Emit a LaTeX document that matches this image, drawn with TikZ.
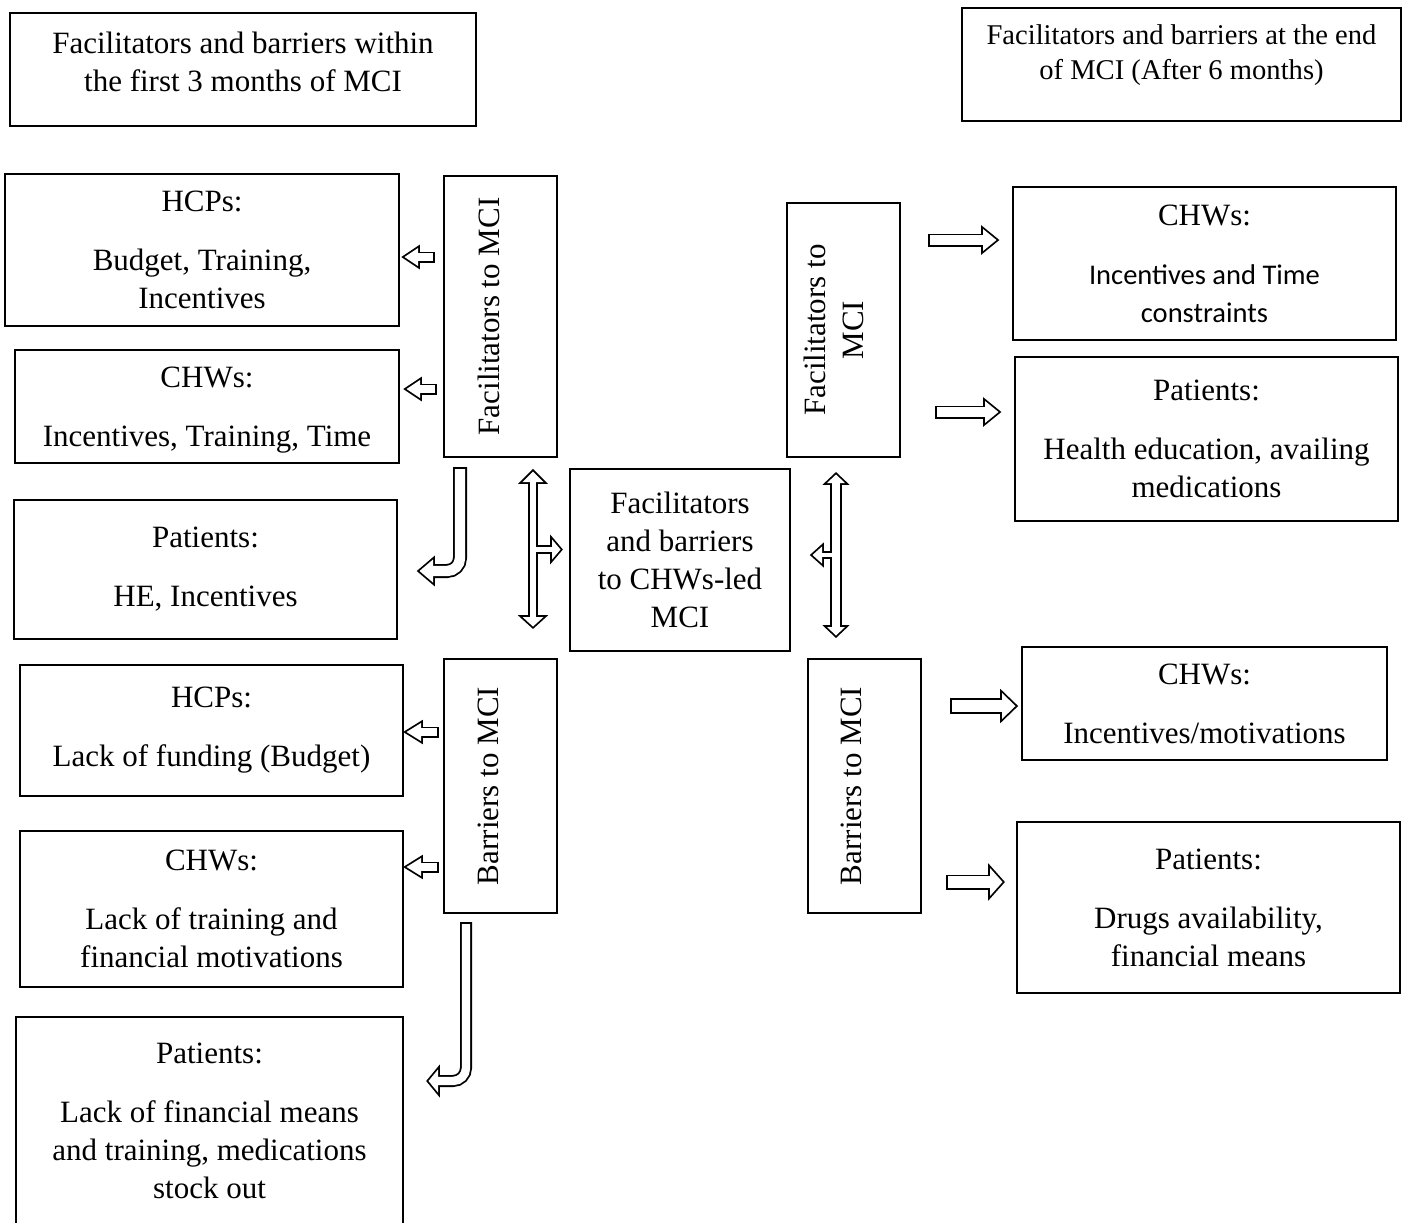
\documentclass[tikz,border=0pt]{standalone}
\usepackage{fontspec}
\setmainfont{Liberation Serif}
\newfontfamily\calibri{Carlito}[Scale=0.92]
\usepackage{tikz}

\tikzset{
  box/.style={draw, line width=0.9pt, align=center, font=\fontsize{15.5}{19}\selectfont},
  shout/.style={line width=#1pt+1.8pt, line cap=butt},
  shin/.style={line width=#1pt, white, line cap=butt},
  tail/.style={shorten <=-0.9pt},
  head/.style={fill=white, preaction={draw, line width=1.8pt, line join=miter}},
}

\begin{document}
\begin{tikzpicture}[x=0.5pt, y=-0.5pt]
  \clip (0,0) rectangle (1403,1222);
  \fill[white] (0,0) rectangle (1403,1222);

  % headings
  \node[box, minimum width=233pt, minimum height=56.5pt, text depth=7.5pt] (hdfirst) at (243,69.5)
    {Facilitators and barriers within\\the first 3 months of MCI};
  \node[box, font=\fontsize{14.3}{17.5}\selectfont, minimum width=219.5pt, minimum height=56.5pt,
    text depth=12.3pt] (hdend) at (1181.5,64.5)
    {Facilitators and barriers at the end\\of MCI (After 6 months)};

  % left column, first 3 months
  \node[box, minimum width=197pt, minimum height=76pt] (hcpfac) at (202,250)
    {HCPs:\\[10.5pt]Budget, Training,\\Incentives};
  \node[box, minimum width=192pt, minimum height=56.5pt, text depth=-4pt] (chwfac) at (207,406.5)
    {CHWs:\\[10.5pt]Incentives, Training, Time};
  \node[box, minimum width=191.5pt, minimum height=69.5pt] (patfac) at (205.5,569.5)
    {Patients:\\[10.5pt]HE, Incentives};
  \node[box, minimum width=191.5pt, minimum height=65.5pt] (hcpbar) at (211.5,730.5)
    {HCPs:\\[10.5pt]Lack of funding (Budget)};
  \node[box, minimum width=191.5pt, minimum height=78pt] (chwbar) at (211.5,909)
    {CHWs:\\[10.5pt]Lack of training and\\financial motivations};
  \node[box, minimum width=193.5pt, minimum height=104pt] (patbar) at (209.5,1121)
    {Patients:\\[10.5pt]Lack of financial means\\and training, medications\\stock out};

  \node[box, rotate=90, minimum width=140.5pt, minimum height=56.5pt, text depth=12pt] (facleft) at (500.5,316.5)
    {Facilitators to MCI};
  \node[box, rotate=90, minimum width=127pt, minimum height=56.5pt, text depth=12pt] (barleft) at (500.5,786)
    {Barriers to MCI};

  \node[box, minimum width=110pt, minimum height=91pt] (core) at (680,560)
    {Facilitators\\and barriers\\to CHWs-led\\MCI};

  % right column, after 6 months
  \node[box, rotate=90, minimum width=127pt, minimum height=56.5pt, text depth=9.5pt] (facright) at (843.5,330)
    {Facilitators to\\MCI};
  \node[box, rotate=90, minimum width=127pt, minimum height=56.5pt, text depth=13pt] (barright) at (864.5,786)
    {Barriers to MCI};

  \node[box, minimum width=191.5pt, minimum height=76.5pt] (chwend) at (1204.5,263.5)
    {CHWs:\\[10.5pt]\calibri Incentives and Time\\\calibri constraints};
  \node[box, minimum width=191.5pt, minimum height=82pt] (patend) at (1206.5,439)
    {Patients:\\[10.5pt]Health education, availing\\medications};
  \node[box, minimum width=182.5pt, minimum height=56.5pt] (chwendbar) at (1204.5,703.5)
    {CHWs:\\[10.5pt]Incentives/motivations};
  \node[box, minimum width=191.5pt, minimum height=85.5pt] (patendbar) at (1208.5,907.5)
    {Patients:\\[10.5pt]Drugs availability,\\financial means};

  % straight block arrows: tail/base/tip/y/shaft/head
  \foreach \tl/\bs/\tp/\yy/\sw/\hh in {
      433/418/404.5/257/3.7/9, 435/420/406.5/389/3.7/9,
      437/421/406.5/732/3.7/9, 437/421/406.5/867/3.7/9,
      930/983/996.5/240/4.7/11, 937/985/998.5/412/4.7/11,
      952/1002/1015.5/706/6.2/13, 948/990/1002.5/882/5.7/14}{
    \draw[shout=\sw, tail] (\tl,\yy) -- (\bs,\yy);
    \path[head] (\bs,\yy-\hh) -- (\tp,\yy) -- (\bs,\yy+\hh) -- cycle;
    \draw[shin=\sw] (\tl,\yy) -- (\bs,\yy);
  }

  % double arrows with a branch
  \draw[shout=3.2] (533,482) -- (533,617);
  \draw[shout=2.7] (533,549.5) -- (552,549.5);
  \draw[shout=4.2] (836,483) -- (836,627);
  \draw[shout=2.2] (836,555) -- (822,555);
  \path[head] (522.5,482) -- (533,471.5) -- (543.5,482) -- cycle;
  \path[head] (522.5,617) -- (533,626.5) -- (543.5,617) -- cycle;
  \path[head] (552,539.5) -- (560.5,549.5) -- (552,559.5) -- cycle;
  \path[head] (827,483) -- (836,474.5) -- (845,483) -- cycle;
  \path[head] (827,627) -- (836,635.5) -- (845,627) -- cycle;
  \path[head] (822,546.5) -- (812.5,555) -- (822,563.5) -- cycle;
  \draw[shin=3.2] (533,482) -- (533,617);
  \draw[shin=2.7] (533,549.5) -- (552,549.5);
  \draw[shin=4.2] (836,483) -- (836,627);
  \draw[shin=2.2] (836,555) -- (822,555);

  % bent arrows to patients
  \draw[shout=5.2, tail, rounded corners=6.5pt] (460,469) |- (433,571);
  \path[head] (433,559.5) -- (419.5,571) -- (433,582.5) -- cycle;
  \draw[shin=5.2, rounded corners=6.5pt] (460,469) |- (433,571);

  \draw[shout=4.2, tail, rounded corners=6.5pt] (466,924) |- (438,1081);
  \path[head] (438,1069.5) -- (428.5,1081) -- (438,1092.5) -- cycle;
  \draw[shin=4.2, rounded corners=6.5pt] (466,924) |- (438,1081);
\end{tikzpicture}
\end{document}
